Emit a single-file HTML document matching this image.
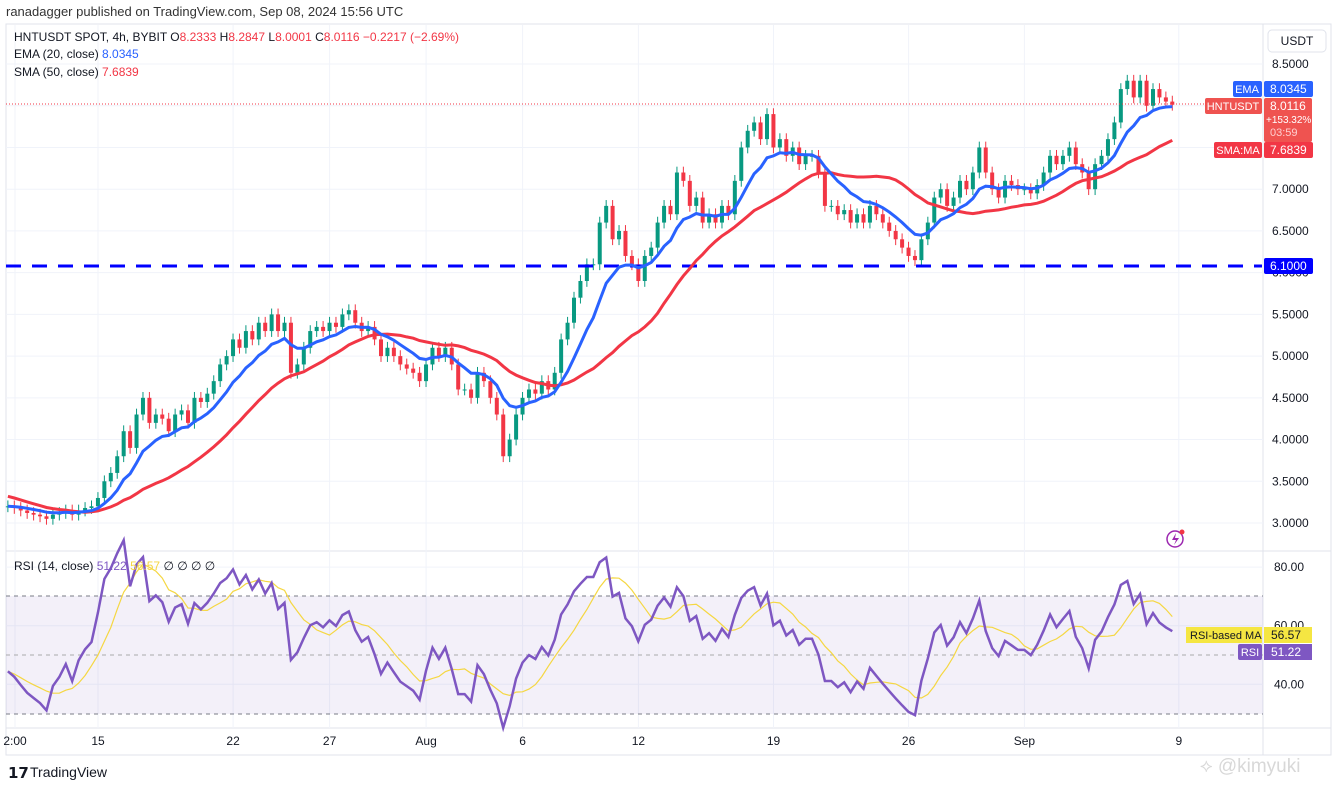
<!DOCTYPE html>
<html><head><meta charset="utf-8"><style>
body{margin:0;background:#fff;font-family:"Liberation Sans",sans-serif;}
#wrap{position:relative;width:1336px;height:786px;overflow:hidden;background:#fff;}
svg text{font-family:"Liberation Sans",sans-serif;}
</style></head><body>
<div id="wrap">
<svg id="svg" width="1336" height="786" xmlns="http://www.w3.org/2000/svg">
<text x="6" y="16" font-size="13" fill="#333">ranadagger published on TradingView.com, Sep 08, 2024 15:56 UTC</text>
<rect x="6" y="24" width="1325" height="731" fill="none" stroke="#e0e3eb"/>
<line x1="1263" y1="24" x2="1263" y2="755" stroke="#e0e3eb"/>
<line x1="6" y1="551" x2="1331" y2="551" stroke="#e0e3eb"/>
<line x1="6" y1="728" x2="1331" y2="728" stroke="#e0e3eb"/>
<g id="grid"></g>
<rect x="6" y="596" width="1257" height="118" fill="#7e57c2" fill-opacity="0.09"/>
<line x1="6" y1="596" x2="1263" y2="596" stroke="#787b86" stroke-dasharray="4 4"/>
<line x1="6" y1="655" x2="1263" y2="655" stroke="#aaa" stroke-dasharray="4 4"/>
<line x1="6" y1="714" x2="1263" y2="714" stroke="#787b86" stroke-dasharray="4 4"/>
<g id="candles"></g>
<line x1="6" y1="266" x2="1262" y2="266" stroke="#0000ff" stroke-width="3" stroke-dasharray="15 11"/>
<line x1="6" y1="104" x2="1262" y2="104" stroke="#f23645" stroke-dasharray="1 2"/>
<path id="sma" fill="none" stroke="#f23645" stroke-width="3"/>
<path id="ema" fill="none" stroke="#2962ff" stroke-width="3"/>
<path id="rsima" fill="none" stroke="#f5d742" stroke-width="1.2"/>
<path id="rsi" fill="none" stroke="#7e57c2" stroke-width="2.5"/>
<g id="axes"></g>
<text x="14" y="41" font-size="12" fill="#131722">HNTUSDT SPOT, 4h, BYBIT <tspan fill="#131722">O</tspan><tspan fill="#f23645">8.2333</tspan> <tspan fill="#131722">H</tspan><tspan fill="#f23645">8.2847</tspan> <tspan fill="#131722">L</tspan><tspan fill="#f23645">8.0001</tspan> <tspan fill="#131722">C</tspan><tspan fill="#f23645">8.0116 −0.2217 (−2.69%)</tspan></text>
<text x="14" y="58" font-size="12" fill="#131722">EMA (20, close) <tspan fill="#2962ff">8.0345</tspan></text>
<text x="14" y="76" font-size="12" fill="#131722">SMA (50, close) <tspan fill="#f23645">7.6839</tspan></text>
<text x="14" y="570" font-size="12" fill="#131722">RSI (14, close) <tspan fill="#7e57c2">51.22</tspan> <tspan fill="#f5d742">56.57</tspan> ∅ ∅ ∅ ∅</text>
<rect x="1268" y="30" width="58" height="22" rx="4" fill="#fff" stroke="#e0e3eb"/>
<text x="1297" y="45" font-size="12" text-anchor="middle" fill="#131722">USDT</text>
<rect x="1233" y="81" width="29" height="16" rx="2" fill="#2962ff"/>
<text x="1247" y="93" font-size="11" fill="#fff" text-anchor="middle">EMA</text>
<rect x="1264" y="81" width="49" height="16" rx="2" fill="#2962ff"/>
<text x="1270" y="93" font-size="12" fill="#fff">8.0345</text>
<rect x="1205" y="98" width="57" height="16" rx="2" fill="#ef5350"/>
<text x="1233" y="110" font-size="11" fill="#fff" text-anchor="middle">HNTUSDT</text>
<rect x="1264" y="98" width="48" height="44" rx="2" fill="#ef5350"/>
<text x="1270" y="110" font-size="12" fill="#fff">8.0116</text>
<text x="1266" y="123" font-size="10" fill="#fff">+153.32%</text>
<text x="1270" y="136" font-size="11" fill="#ffd0d0">03:59</text>
<rect x="1214" y="142" width="48" height="16" rx="2" fill="#f23645"/>
<text x="1238" y="154" font-size="11" fill="#fff" text-anchor="middle">SMA:MA</text>
<rect x="1264" y="142" width="49" height="16" rx="2" fill="#f23645"/>
<text x="1270" y="154" font-size="12" fill="#fff">7.6839</text>
<rect x="1264" y="258" width="49" height="16" rx="2" fill="#0000ff"/>
<text x="1270" y="270" font-size="12" fill="#fff">6.1000</text>
<rect x="1186" y="627" width="76" height="16" fill="#f5e642"/>
<text x="1190" y="639" font-size="11" fill="#131722">RSI-based MA</text>
<rect x="1264" y="627" width="48" height="16" fill="#f5e642"/>
<text x="1271" y="639" font-size="12" fill="#131722">56.57</text>
<rect x="1238" y="644" width="24" height="16" rx="2" fill="#7e57c2"/>
<text x="1250" y="656" font-size="11" fill="#fff" text-anchor="middle">RSI</text>
<rect x="1264" y="644" width="48" height="16" fill="#7e57c2"/>
<text x="1271" y="656" font-size="12" fill="#fff">51.22</text>
<circle cx="1175" cy="539" r="8" fill="none" stroke="#9c27b0" stroke-width="1.5"/>
<path d="M1176 533 L1172 540 L1176 540 L1174 545 L1179 538 L1175 538 Z" fill="#9c27b0"/>
<circle cx="1182" cy="532" r="2.5" fill="#f23645"/>
<text x="8" y="778" font-size="15" font-weight="bold" fill="#131722">𝟭𝟳</text>
<text x="30" y="777" font-size="14" fill="#131722">TradingView</text>
<text x="1200" y="772" font-size="19" fill="#d8d8d8">⟡ @kimyuki</text>
</svg>
</div>
<script>
// 8h closes, starting ~Jul 10 (day -4.67)
const closes=[3.2,3.18,
3.15,3.12,3.1, 3.08,3.05,3.1, 3.12,3.15,3.1, 3.15,3.18,3.2,
3.3,3.5,3.6, 3.8,4.1,3.9, 4.3,4.5,4.2, 4.3,4.25,4.1, 4.3,4.35,4.2,
4.5,4.45,4.55, 4.7,4.9,5.0, 5.2,5.1,5.3, 5.2,5.4,5.3, 5.5,5.3,5.4,
4.8,4.9,5.1, 5.3,5.35,5.3, 5.4,5.35,5.5, 5.55,5.4,5.3, 5.35,5.2,5.0,
5.1,5.0,4.9, 4.85,4.8,4.7, 4.9,5.1,5.0, 5.1,4.9,4.6, 4.6,4.5,4.8,
4.7,4.5,4.3, 3.8,4.0,4.3, 4.5,4.6,4.55, 4.7,4.6,4.8, 5.2,5.4,5.7,
5.9,6.1,6.1, 6.6,6.8,6.4, 6.5,6.2,6.1, 5.9,6.2,6.3, 6.6,6.8,6.7,
7.2,7.1,6.8, 6.9,6.6,6.7, 6.6,6.8,6.7, 7.1,7.5,7.7, 7.8,7.6,7.9,
7.5,7.6,7.4, 7.5,7.3,7.4, 7.4,7.2,6.8, 6.8,6.7,6.75, 6.6,6.7,6.6,
6.8,6.7,6.6, 6.5,6.4,6.3, 6.2,6.15,6.4, 6.6,6.9,7.0, 6.8,6.9,7.1,
7.0,7.2,7.5, 7.2,7.0,6.9, 7.1,7.05,7.0, 7.0,6.95,7.05, 7.2,7.4,7.3,
7.4,7.5,7.3, 7.2,7.0,7.3, 7.4,7.6,7.8, 8.2,8.3,8.1, 8.3,8.0,8.2,
8.1,8.05,8.0116];
const priceTicks=["3.0000","3.5000","4.0000","4.5000","5.0000","5.5000","6.0000","6.5000","7.0000","7.5000","8.0000","8.5000"];
const rsiTicks=["40.00","60.00","80.00"];
const dateLabels=["2:00","15","22","27","Aug","6","12","19","26","Sep","9"];
const dateDays=[-4.3,0,7,12,17,22,28,35,42,48,56];

const NS="http://www.w3.org/2000/svg";
const svg=document.getElementById('svg');
const startDay=-4.67, dayPx=19.3, x0=98;
const xOf=i=>x0+(startDay+i/3)*dayPx;
const xDay=d=>x0+d*dayPx;
const yP=p=>523-(p-3)*83.45;
const yR=r=>655-(r-50)*2.93;
function mk(tag,attrs,parent){const e=document.createElementNS(NS,tag);for(const k in attrs)e.setAttribute(k,attrs[k]);parent.appendChild(e);return e;}

const grid=document.getElementById('grid'), axes=document.getElementById('axes');
priceTicks.forEach(t=>{const y=yP(parseFloat(t));
 const l=mk('line',{x1:6,x2:1263,y1:y,y2:y,stroke:'#f0f3fa'},grid);
 
 const tx=mk('text',{x:1272,y:y+4,'font-size':12,fill:'#131722'},axes);tx.textContent=t;
 });
rsiTicks.forEach(t=>{const y=yR(parseFloat(t));
 const l=mk('line',{x1:6,x2:1263,y1:y,y2:y,stroke:'#f0f3fa'},grid);
 
 const tx=mk('text',{x:1274,y:y+4,'font-size':12,fill:'#131722'},axes);tx.textContent=t;
 });
dateLabels.forEach((t,i)=>{const x=xDay(dateDays[i]);
 const l=mk('line',{x1:x,x2:x,y1:25,y2:728,stroke:'#f0f3fa'},grid);
 
 const tx=mk('text',{x:x,y:745,'font-size':12,fill:'#131722','text-anchor':'middle'},axes);tx.textContent=t;
 });

const cg=document.getElementById('candles');
closes.forEach((c,i)=>{const o=i?closes[i-1]:c;const up=c>=o;const col=up?'#089981':'#f23645';
 const hi=Math.max(o,c)+0.07, lo=Math.min(o,c)-0.07;const x=xOf(i);
 const w=mk('line',{x1:x,x2:x,y1:yP(hi),y2:yP(lo),stroke:col,'stroke-width':1},cg);
 
 const top=yP(Math.max(o,c)),bot=yP(Math.min(o,c));
 const r=mk('rect',{x:x-2,y:top,width:4,height:Math.max(1,bot-top),fill:col},cg);
 });

let ema=[],e=closes[0],k=2/11;closes.forEach(c=>{e=c*k+e*(1-k);ema.push(e);});
let sma=closes.map((c,i)=>{const s=closes.slice(Math.max(0,i-24),i+1);return s.reduce((a,b)=>a+b,0)/s.length;});
sma=sma.map((v,i)=>i<12?v+0.12*(12-i)/12:v);
const path=(arr,fy)=>arr.map((v,i)=>(i?'L':'M')+xOf(i).toFixed(1)+' '+fy(v).toFixed(1)).join(' ');
document.getElementById('ema').setAttribute('d',path(ema,yP));
document.getElementById('sma').setAttribute('d',path(sma,yP));

const N=11;let ag=0,al=0,rsi=[];
closes.forEach((c,i)=>{const d=i?c-closes[i-1]:0;const g=Math.max(d,0),l=Math.max(-d,0);
 if(i===0){ag=0.02;al=0.025;}else{ag=(ag*(N-1)+g)/N;al=(al*(N-1)+l)/N;}
 rsi.push(100-100/(1+ag/al));});
const rsiMa=rsi.map((v,i)=>{const s=rsi.slice(Math.max(0,i-6),i+1);return s.reduce((a,b)=>a+b,0)/s.length;});
document.getElementById('rsi').setAttribute('d',path(rsi,yR));
document.getElementById('rsima').setAttribute('d',path(rsiMa,yR));
</script>
</body></html>
